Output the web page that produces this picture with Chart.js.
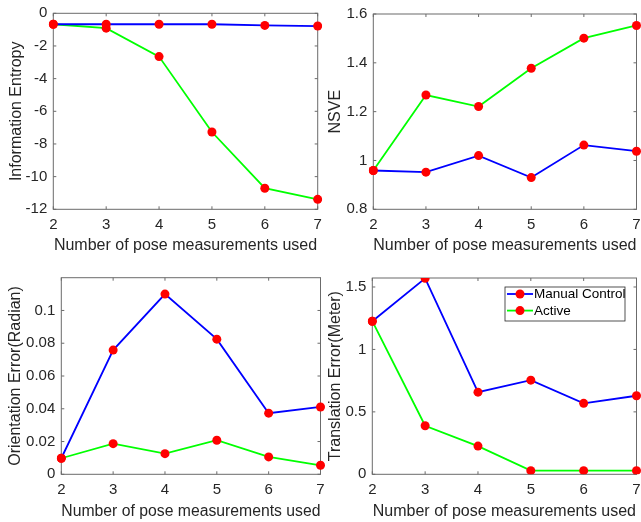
<!DOCTYPE html>
<html>
<head>
<meta charset="utf-8">
<script src="https://cdn.jsdelivr.net/npm/chart.js@4"></script>
<style>
  body { margin: 0; background: #fff; width: 641px; height: 522px; overflow: hidden; position: relative; }
  canvas { position: absolute; }
</style>
</head>
<body>
<canvas id="entropy" width="325" height="262" style="left:0;top:0"></canvas>
<canvas id="nsve" width="316" height="262" style="left:325px;top:0"></canvas>
<canvas id="orient" width="325" height="260" style="left:0;top:262px"></canvas>
<canvas id="trans" width="316" height="260" style="left:325px;top:262px"></canvas>
<script>
// x values: number of pose measurements
const poseCounts = [2, 3, 4, 5, 6, 7];
const seriesNames = ['Manual Control', 'Active'];

// Information entropy
const entropyManual = [-0.67, -0.67, -0.67, -0.67, -0.74, -0.78];
const entropyActive = [-0.67, -0.91, -2.65, -7.27, -10.71, -11.39];
const entropyTicks = [-12, -10, -8, -6, -4, -2, 0];

// NSVE
const nsveManual = [0.959, 0.952, 1.020, 0.930, 1.063, 1.038];
const nsveActive = [0.959, 1.268, 1.221, 1.378, 1.501, 1.553];
const nsveTicks = [0.8, 1, 1.2, 1.4, 1.6];

// Orientation error (radian)
const orientManual = [0.0098, 0.0758, 0.110, 0.0825, 0.0373, 0.0411];
const orientActive = [0.0098, 0.0187, 0.0126, 0.0208, 0.0106, 0.0055];
const orientTicks = [0, 0.02, 0.04, 0.06, 0.08, 0.1];

// Translation error (meter)
const transManual = [1.226, 1.569, 0.658, 0.754, 0.568, 0.629];
const transActive = [1.226, 0.389, 0.226, 0.029, 0.029, 0.029];
const transTicks = [0, 0.5, 1, 1.5];

const ink = '#262626';
const fontFamily = '"Liberation Sans", Arial, sans-serif';

// matlab style box with inward ticks, drawn under the lines
const axesBox = {
  id: 'axesBox',
  beforeDatasetsDraw(chart) {
    const {ctx, chartArea: a, scales} = chart;
    ctx.save();
    ctx.strokeStyle = '#6b6b6b';
    ctx.lineWidth = 1;
    ctx.strokeRect(a.left, a.top, a.right - a.left, a.bottom - a.top);
    ctx.beginPath();
    scales.y.ticks.forEach(t => {
      const y = scales.y.getPixelForValue(t.value);
      ctx.moveTo(a.left, y); ctx.lineTo(a.left + 3, y);
      ctx.moveTo(a.right, y); ctx.lineTo(a.right - 3, y);
    });
    scales.x.ticks.forEach((t, i) => {
      const x = scales.x.getPixelForTick(i);
      ctx.moveTo(x, a.bottom); ctx.lineTo(x, a.bottom - 3);
      ctx.moveTo(x, a.top); ctx.lineTo(x, a.top + 3);
    });
    ctx.stroke();
    ctx.restore();
  }
};

// legend box in the top right corner of the axes
const legendBox = {
  id: 'legendBox',
  afterDraw(chart) {
    const {ctx, chartArea: a} = chart;
    const w = 120, h = 34, x0 = a.right - 11.5 - w, y0 = a.top + 9;
    ctx.save();
    ctx.fillStyle = '#fff';
    ctx.fillRect(x0, y0, w, h);
    ctx.strokeStyle = ink;
    ctx.lineWidth = 0.8;
    ctx.strokeRect(x0, y0, w, h);
    ctx.font = '13.5px ' + fontFamily;
    ctx.textBaseline = 'middle';
    chart.data.datasets.forEach((ds, i) => {
      const y = y0 + 7 + i * 16.6;
      ctx.strokeStyle = ds.borderColor;
      ctx.lineWidth = 1.8;
      ctx.beginPath(); ctx.moveTo(x0 + 2, y); ctx.lineTo(x0 + 28, y); ctx.stroke();
      ctx.fillStyle = ds.pointBackgroundColor;
      ctx.beginPath(); ctx.arc(x0 + 15, y, 4.5, 0, Math.PI * 2); ctx.fill();
      ctx.fillStyle = '#000';
      ctx.fillText(ds.label, x0 + 29, y + 0.5);
    });
    ctx.restore();
  }
};

function panel(id, yTitle, yMin, yMax, yTicks, manual, active, g, withLegend) {
  const canvas = document.getElementById(id);
  const W = canvas.width, H = canvas.height;
  const xBottom = g.xTitleY + 9.6;
  const line = (label, data, color) => ({
    label: label, data: data, borderColor: color, borderWidth: 1.8,
    pointRadius: 4.5, pointBackgroundColor: '#ff0000', pointBorderColor: '#ff0000',
    pointBorderWidth: 0, tension: 0
  });
  new Chart(canvas, {
    type: 'line',
    data: {
      labels: poseCounts,
      datasets: [line(seriesNames[0], manual, '#0000ff'), line(seriesNames[1], active, '#00ff00')]
    },
    options: {
      responsive: false,
      animation: false,
      layout: { padding: { left: g.yTitleX - 9.6, top: g.top, right: W - g.right, bottom: H - xBottom } },
      plugins: { legend: { display: false }, tooltip: { enabled: false } },
      scales: {
        x: {
          type: 'category', offset: false,
          grid: { display: false, drawTicks: false }, border: { display: false },
          ticks: { color: ink, font: { family: fontFamily, size: 15 }, padding: 7, maxRotation: 0, autoSkip: false },
          title: { display: true, text: 'Number of pose measurements used', color: ink, padding: 0,
                   font: { family: fontFamily, size: 16 } },
          afterFit(s) { s.height = xBottom - g.bottom; s.paddingLeft = 0; s.paddingRight = 0; }
        },
        y: {
          min: yMin, max: yMax,
          grid: { display: false, drawTicks: false }, border: { display: false },
          ticks: { color: ink, font: { family: fontFamily, size: 15 }, padding: 6,
                   callback: v => String(v) },
          afterBuildTicks(s) { s.ticks = yTicks.map(v => ({ value: v })); },
          title: { display: true, text: yTitle, color: ink, padding: 0,
                   font: { family: fontFamily, size: 16 } },
          afterFit(s) { s.width = g.left - (g.yTitleX - 9.6); s.paddingTop = 0; s.paddingBottom = 0; }
        }
      }
    },
    plugins: withLegend ? [axesBox, legendBox] : [axesBox]
  });
}

panel('entropy', 'Information Entropy', -12, 0, entropyTicks, entropyManual, entropyActive,
  { left: 53.3, top: 13.3, right: 317.7, bottom: 209.3, yTitleX: 16.7, xTitleY: 245.5 }, false);
panel('nsve', 'NSVE', 0.8, 1.6, nsveTicks, nsveManual, nsveActive,
  { left: 48.3, top: 14, right: 315.5, bottom: 209.3, yTitleX: 11, xTitleY: 245.5 }, false);
panel('orient', 'Orientation Error(Radian)', 0, 0.12, orientTicks, orientManual, orientActive,
  { left: 61.3, top: 15.7, right: 321.2, bottom: 212.3, yTitleX: 16, xTitleY: 250 }, false);
panel('trans', 'Translation Error(Meter)', 0, 1.572, transTicks, transManual, transActive,
  { left: 47.3, top: 16, right: 315.5, bottom: 212.3, yTitleX: 11, xTitleY: 250 }, true);
</script>
</body>
</html>
